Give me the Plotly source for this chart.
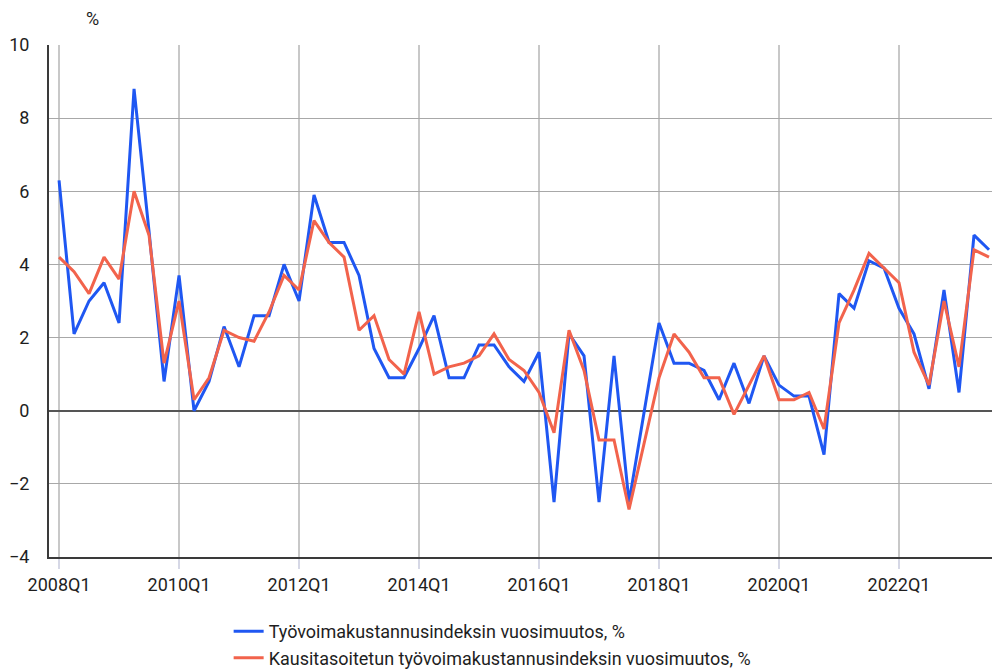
import plotly.graph_objects as go

quarters = [f"{y}Q{q}" for y in range(2008, 2024) for q in range(1, 5)][:63]

tyovoima = [6.3, 2.1, 3.0, 3.5, 2.4, 8.8, 4.9, 0.8,
            3.7, 0.0, 0.8, 2.3, 1.2, 2.6, 2.6, 4.0,
            3.0, 5.9, 4.6, 4.6, 3.7, 1.7, 0.9, 0.9,
            1.7, 2.6, 0.9, 0.9, 1.8, 1.8, 1.2, 0.8,
            1.6, -2.5, 2.1, 1.5, -2.5, 1.5, -2.5, 0.0,
            2.4, 1.3, 1.3, 1.1, 0.3, 1.3, 0.2, 1.5,
            0.7, 0.4, 0.4, -1.2, 3.2, 2.8, 4.1, 3.9,
            2.8, 2.1, 0.6, 3.3, 0.5, 4.8, 4.4]

kausitasoitettu = [4.2, 3.8, 3.2, 4.2, 3.6, 6.0, 4.8, 1.3,
                   3.0, 0.3, 0.9, 2.2, 2.0, 1.9, 2.7, 3.7,
                   3.3, 5.2, 4.6, 4.2, 2.2, 2.6, 1.4, 1.0,
                   2.7, 1.0, 1.2, 1.3, 1.5, 2.1, 1.4, 1.1,
                   0.5, -0.6, 2.2, 1.1, -0.8, -0.8, -2.7, -0.9,
                   0.9, 2.1, 1.6, 0.9, 0.9, -0.1, 0.7, 1.5,
                   0.3, 0.3, 0.5, -0.5, 2.4, 3.3, 4.3, 3.9,
                   3.5, 1.6, 0.7, 3.0, 1.2, 4.4, 4.2]

series_names = ["Työvoimakustannusindeksin vuosimuutos, %",
                "Kausitasoitetun työvoimakustannusindeksin vuosimuutos, %"]

tick_labels = ["2008Q1", "2010Q1", "2012Q1", "2014Q1", "2016Q1", "2018Q1", "2020Q1", "2022Q1"]
y_ticks = [-4, -2, 0, 2, 4, 6, 8, 10]

FONT = "Roboto, sans-serif"

fig = go.Figure()
fig.add_trace(go.Scatter(x=quarters, y=tyovoima, mode="lines", name=series_names[0],
                         line=dict(color="#1f57f2", width=3)))
fig.add_trace(go.Scatter(x=quarters, y=kausitasoitettu, mode="lines", name=series_names[1],
                         line=dict(color="#f2634c", width=3)))

fig.update_layout(
    width=992, height=671,
    margin=dict(l=49, r=0, t=45, b=114),
    paper_bgcolor="white", plot_bgcolor="white",
    font=dict(family=FONT, size=18, color="#1e1e1e"),
    showlegend=True,
    legend=dict(x=0.1905, xanchor="left", xref="paper",
                y=0.0864, yanchor="top", yref="container",
                orientation="v", font=dict(size=18), tracegroupgap=0,
                bgcolor="rgba(0,0,0,0)"),
    xaxis=dict(type="category", categoryorder="array", categoryarray=quarters,
               range=[-0.67, 62.2], tickmode="array", tickvals=tick_labels, ticktext=tick_labels,
               showgrid=True, gridcolor="#c8c8c8", gridwidth=2, automargin=False,
               ticks="outside", ticklen=10, tickcolor="#d6d8e6", tickwidth=1.5,
               showline=True, linecolor="#3a3a3a", linewidth=2, zeroline=False),
    yaxis=dict(range=[-4, 10], tickmode="array", tickvals=y_ticks, automargin=False,
               showgrid=True, gridcolor="#a8a8a8", gridwidth=1.3,
               zeroline=True, zerolinecolor="#555", zerolinewidth=2,
               showline=True, linecolor="#3a3a3a", linewidth=2,
               ticks="outside", ticklen=14, tickcolor="rgba(0,0,0,0)"),
    annotations=[dict(text="%", xref="paper", yref="paper", x=0, y=1,
                      xanchor="center", yanchor="middle", xshift=43, yshift=27,
                      showarrow=False, font=dict(size=18, family=FONT))],
)

fig.write_html("out.html", config={"displayModeBar": False},
               post_script="document.body.style.margin='0';document.body.style.overflow='hidden';")
